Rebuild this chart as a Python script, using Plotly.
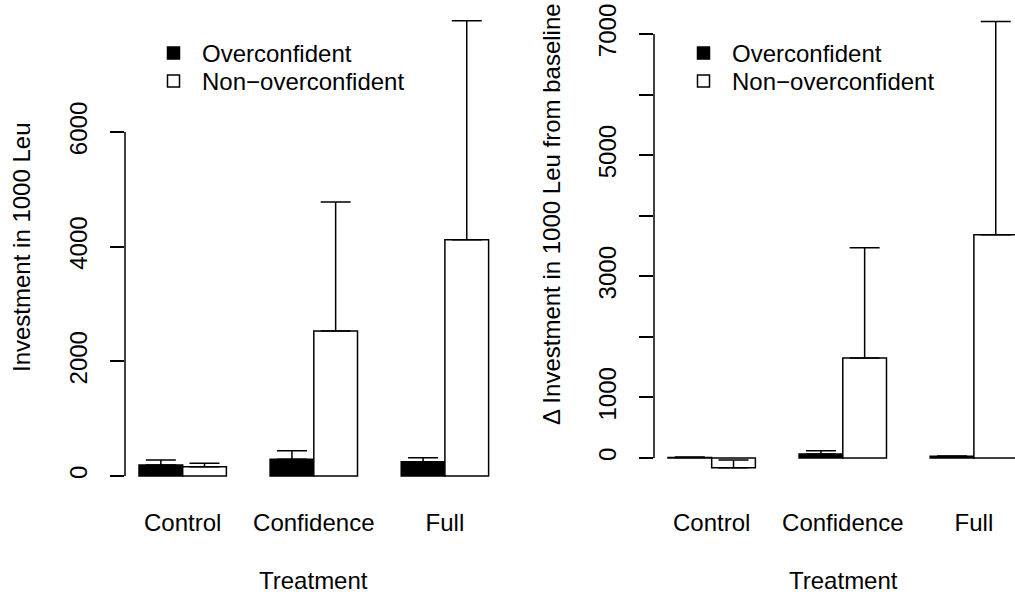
import plotly.graph_objects as go

# ---- data ----
treatments = ["Control", "Confidence", "Full"]
series_names = ["Overconfident", "Non\u2212overconfident"]

# Left panel: investment in 1000 Leu
left_oc = [190, 291, 250]
left_oc_se = [89, 150, 70]
left_noc = [162, 2530, 4120]
left_noc_se = [59, 2250, 3820]

# Right panel: change in investment from baseline
right_oc = [10, 66, 28]
right_oc_se = [8, 54, 7]
right_noc = [-160, 1653, 3686]
right_noc_se = [127, 1817, 3521]

left_ticks = [0, 2000, 4000, 6000]
left_ticktext = ["0", "2000", "4000", "6000"]
right_ticks = [0, 1000, 2000, 3000, 4000, 5000, 6000, 7000]
right_ticktext = ["0", "1000", "", "3000", "", "5000", "", "7000"]

left_ytitle = "Investment in 1000 Leu"
right_ytitle = "\u0394 Investment in 1000 Leu from baseline"
xtitle = "Treatment"

# ---- layout helpers ----
W, H = 1015, 594
OFF = 0  # page body margin removed via post_script
FONT = "Liberation Sans, Arial, Helvetica, sans-serif"
LW = 1.5


def px_x(p):
    return (p - OFF) / W


def px_y(p):
    return (H - (p - OFF)) / H


fig = go.Figure()

fills = ["black", "white"]


def add_panel(vals_list, se_list, xa, ya, legends):
    for name, vals, se, fill, lg in zip(series_names, vals_list, se_list, fills, legends):
        fig.add_trace(go.Bar(
            x=treatments, y=vals, name=name,
            marker=dict(color=fill, line=dict(color="black", width=LW)),
            error_y=dict(type="data", symmetric=False, array=se,
                         arrayminus=[0] * len(se),
                         color="black", thickness=LW, width=15),
            xaxis=xa, yaxis=ya, legend=lg, hoverinfo="skip",
        ))


add_panel([left_oc, left_noc], [left_oc_se, left_noc_se], "x", "y", ["legend", "legend2"])
add_panel([right_oc, right_noc], [right_oc_se, right_noc_se], "x2", "y2", ["legend3", "legend4"])

ydom = [px_y(500), px_y(0)]

common_x = dict(showline=False, ticks="", showgrid=False, zeroline=False,
                tickfont=dict(size=24, color="black", family=FONT),
                ticklabelstandoff=6)
common_y = dict(showline=False, ticks="outside", ticklen=14, tickwidth=LW,
                tickcolor="black", showgrid=False, zeroline=False,
                tickangle=-90, ticklabelstandoff=13, ticklabeloverflow="allow",
                tickfont=dict(size=24, color="black", family=FONT))


def leg(xp, yp):
    return dict(x=px_x(xp), y=px_y(yp), xanchor="left", yanchor="top",
                bgcolor="rgba(0,0,0,0)", font=dict(size=24, family=FONT, color="black"),
                itemwidth=47, itemclick=False, itemdoubleclick=False)


fig.update_layout(
    width=W, height=H,
    margin=dict(l=0, r=0, t=0, b=0),
    paper_bgcolor="white", plot_bgcolor="white",
    barmode="group", bargap=1 / 3, bargroupgap=0,
    font=dict(family=FONT, size=24, color="black"),
    showlegend=True,
    xaxis=dict(domain=[px_x(125), px_x(502.6)], range=[-0.44, 2.44],
               anchor="y", **common_x),
    yaxis=dict(domain=ydom, range=[-418.6, 8303], anchor="x",
               tickvals=left_ticks, ticktext=left_ticktext, **common_y),
    xaxis2=dict(domain=[px_x(654), 1.0], range=[-0.44, 2.3136],
                anchor="y2", **common_x),
    yaxis2=dict(domain=ydom, range=[-693, 7562], anchor="x2",
                tickvals=right_ticks, ticktext=right_ticktext, **common_y),
    legend=leg(145, 31),
    legend2=leg(145, 59),
    legend3=leg(675, 31),
    legend4=leg(675, 59),
)

# Y axis lines spanning only the tick range (R style)
fig.add_shape(type="line", xref="x domain", yref="y", x0=0, x1=0,
              y0=left_ticks[0], y1=left_ticks[-1],
              line=dict(color="black", width=LW))
fig.add_shape(type="line", xref="x2 domain", yref="y2", x0=0, x1=0,
              y0=right_ticks[0], y1=right_ticks[-1],
              line=dict(color="black", width=LW))

# Axis titles
tfont = dict(size=24, family=FONT, color="black")
fig.add_annotation(text=left_ytitle, xref="paper", yref="paper",
                   x=px_x(21), y=px_y(247), textangle=-90, showarrow=False,
                   xanchor="center", yanchor="middle", font=tfont)
fig.add_annotation(text=right_ytitle, xref="paper", yref="paper",
                   x=px_x(551), y=px_y(214), textangle=-90, showarrow=False,
                   xanchor="center", yanchor="middle", font=tfont)
fig.add_annotation(text=xtitle, xref="paper", yref="paper",
                   x=px_x(313), y=px_y(580), showarrow=False,
                   xanchor="center", yanchor="middle", font=tfont)
fig.add_annotation(text=xtitle, xref="paper", yref="paper",
                   x=px_x(843), y=px_y(580), showarrow=False,
                   xanchor="center", yanchor="middle", font=tfont)

fig.write_html("out.html", config={"displayModeBar": False},
               post_script="document.body.style.margin='0';")
